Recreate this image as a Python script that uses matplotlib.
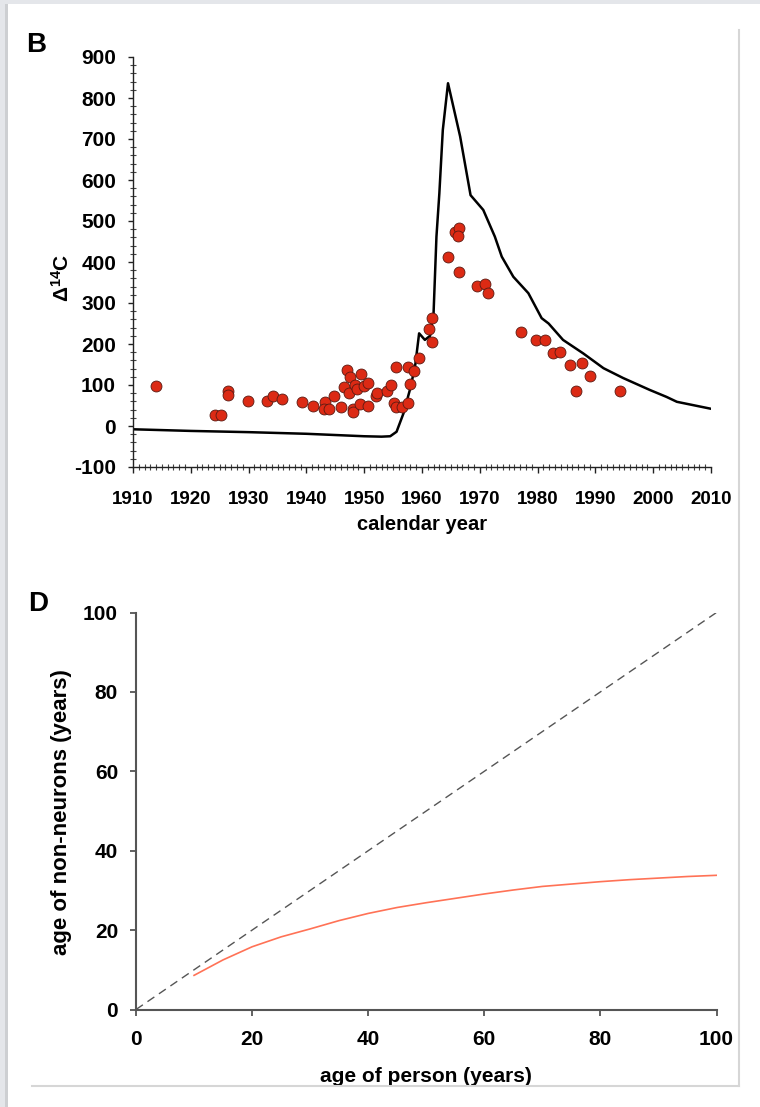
import matplotlib
matplotlib.use("Agg")
import matplotlib.pyplot as plt
from matplotlib.ticker import MultipleLocator
from matplotlib.patches import Rectangle
from matplotlib.lines import Line2D

plt.rcParams['font.family'] = ['Liberation Sans', 'DejaVu Sans']
plt.rcParams['font.weight'] = 'bold'
plt.rcParams['axes.unicode_minus'] = False
plt.rcParams['mathtext.fontset'] = 'custom'
plt.rcParams['mathtext.rm'] = 'Liberation Sans:bold'
plt.rcParams['mathtext.bf'] = 'Liberation Sans:bold'
plt.rcParams['mathtext.it'] = 'Liberation Sans:bold'

# Atmospheric 14C record (bomb curve)
atm_year = [1910, 1920, 1930, 1940, 1945, 1950, 1953, 1954.5, 1955.6, 1956.8,
            1957.9, 1958.8, 1959.5, 1960.5, 1961.4, 1962.0, 1962.5, 1963.0,
            1963.6, 1964.5, 1966.6, 1968.4, 1970.6, 1972.6, 1973.8, 1975.8,
            1978.4, 1980.7, 1981.9, 1984.4, 1987.9, 1991.4, 1994.8, 1999.4,
            2002.3, 2004.1, 2010.0]
atm_d14c = [-8, -12, -15, -19, -22, -25, -26, -25, -14, 31,
            88, 145, 226, 210, 220, 275, 462, 567,
            722, 836, 706, 563, 527, 462, 413, 364,
            324, 263, 250, 210, 177, 141, 117, 88,
            71, 59, 42]

# Measured samples
sample_year = [1913.9, 1924.2, 1925.3, 1926.4, 1926.4, 1929.9, 1933.1, 1934.2,
               1935.7, 1939.2, 1941.2, 1943.2, 1943.0, 1943.9, 1944.8, 1945.9,
               1947.0, 1947.5, 1946.5, 1947.3, 1948.4, 1948.7, 1949.4, 1949.9,
               1950.6, 1948.0, 1948.0, 1949.3, 1950.6, 1952.1, 1952.3, 1953.9,
               1954.6, 1955.5, 1955.2, 1955.5, 1956.5, 1957.5, 1957.6, 1957.9,
               1958.7, 1959.5, 1961.2, 1961.8, 1961.8, 1964.5, 1965.7, 1966.4,
               1966.2, 1966.4, 1969.5, 1970.9, 1971.5, 1977.2, 1979.8, 1981.3,
               1982.7, 1983.8, 1985.6, 1987.7, 1989.1, 1986.6, 1994.3]
sample_d14c = [98, 28, 28, 86, 75, 61, 60, 74,
               67, 58, 50, 58, 41, 41, 73, 46,
               136, 119, 95, 81, 99, 90, 127, 98,
               104, 41, 33, 53, 50, 74, 81, 86,
               101, 145, 55, 46, 47, 143, 57, 102,
               135, 165, 236, 263, 206, 413, 474, 484,
               464, 376, 342, 346, 325, 230, 210, 210,
               179, 181, 149, 154, 122, 85, 85]

# Modelled age of non-neuronal cells
person_age = [10, 15, 20, 25, 30, 35, 40, 45, 50, 55, 60, 65, 70, 75, 80,
              85, 90, 95, 100]
nonneuron_age = [8.6, 12.5, 15.8, 18.3, 20.3, 22.4, 24.2, 25.7, 26.9, 28.0,
                 29.1, 30.1, 31.0, 31.6, 32.2, 32.7, 33.1, 33.5, 33.8]
identity = [0, 100]

W, H = 760, 1107
fig = plt.figure(figsize=(W / 100, H / 100), dpi=100)
fig.patch.set_facecolor('white')

# page frame
gray = '#e4e6ea'
fig.add_artist(Rectangle((0, 1 - 4 / H), 1, 4 / H, transform=fig.transFigure,
                         facecolor=gray, edgecolor='none', zorder=-5))
fig.add_artist(Rectangle((0, 0), 8 / W, 1, transform=fig.transFigure,
                         facecolor=gray, edgecolor='none', zorder=-5))
fig.add_artist(Rectangle((5 / W, 0), 3 / W, 1 - 4 / H, transform=fig.transFigure,
                         facecolor='#cdcfd2', edgecolor='none', zorder=-4))
fig.add_artist(Line2D([738.5 / W, 738.5 / W], [1 - 30 / H, 1 - 1086 / H],
                      transform=fig.transFigure, color='#d6d6d6', lw=1.5))
fig.add_artist(Line2D([32 / W, 739 / W], [1 - 1086 / H, 1 - 1086 / H],
                      transform=fig.transFigure, color='#d6d6d6', lw=1.5))

# ---- panel B ----
axB = fig.add_axes([133 / W, 1 - 467 / H, (711 - 133) / W, (467 - 57) / H])
axB.plot(atm_year, atm_d14c, color='black', lw=1.8, zorder=2)
axB.scatter(sample_year, sample_d14c, s=62, color='#dc2a14',
            edgecolors='#5a1a12', linewidths=0.6, zorder=3)
axB.set_xlim(1910, 2010)
axB.set_ylim(-100, 900)
axB.xaxis.set_major_locator(MultipleLocator(10))
axB.xaxis.set_minor_locator(MultipleLocator(1))
axB.yaxis.set_major_locator(MultipleLocator(100))
axB.yaxis.set_minor_locator(MultipleLocator(20))
for s in ['top', 'right']:
    axB.spines[s].set_visible(False)
for s in ['left', 'bottom']:
    axB.spines[s].set_linewidth(1.0)
    axB.spines[s].set_color('#222222')
axB.tick_params(axis='x', which='major', direction='out', length=4, width=1,
                pad=13.5, labelsize=13.5, color='#222222')
axB.tick_params(axis='x', which='minor', direction='inout', length=4, width=0.8,
                color='#444444')
axB.tick_params(axis='y', which='major', direction='out', length=3.6, width=1,
                pad=8.6, labelsize=15, color='#222222')
axB.tick_params(axis='y', which='minor', direction='inout', length=4, width=0.8,
                color='#444444')
for lab in axB.get_xticklabels() + axB.get_yticklabels():
    lab.set_fontweight('bold')
axB.set_xlabel('calendar year', fontsize=14.5, fontweight='bold', labelpad=5)
fig.text(62 / W, 1 - 278 / H, r'$\Delta^{14}$C', fontsize=15, fontweight='bold',
         rotation=90, ha='center', va='center')
fig.text(26 / W, 1 - 45 / H, 'B', fontsize=20, fontweight='bold',
         ha='left', va='center')

# ---- panel D ----
axD = fig.add_axes([136 / W, 1 - 1009.5 / H, (716.5 - 136) / W, (1009.5 - 612.5) / H])
axD.plot(identity, identity, color='#555555', lw=1.0, dashes=(6, 4))
axD.plot(person_age, nonneuron_age, color='#ff7256', lw=1.2)
axD.set_xlim(0, 100)
axD.set_ylim(0, 100)
axD.xaxis.set_major_locator(MultipleLocator(20))
axD.yaxis.set_major_locator(MultipleLocator(20))
for s in ['top', 'right']:
    axD.spines[s].set_visible(False)
for s in ['left', 'bottom']:
    axD.spines[s].set_linewidth(1.5)
    axD.spines[s].set_color('#555555')
axD.tick_params(axis='both', which='major', direction='out', length=4.3, width=1.3,
                labelsize=15, color='#555555')
axD.tick_params(axis='x', pad=10.5)
axD.tick_params(axis='y', pad=8.6)
for lab in axD.get_xticklabels() + axD.get_yticklabels():
    lab.set_fontweight('bold')
axD.set_xlabel('age of person (years)', fontsize=15, fontweight='bold', labelpad=13)
fig.text(62 / W, 1 - 812 / H, 'age of non-neurons (years)', fontsize=16,
         fontweight='bold', rotation=90, ha='center', va='center')
fig.text(28 / W, 1 - 604 / H, 'D', fontsize=20, fontweight='bold',
         ha='left', va='center')

fig.savefig('out.png', dpi=100)
